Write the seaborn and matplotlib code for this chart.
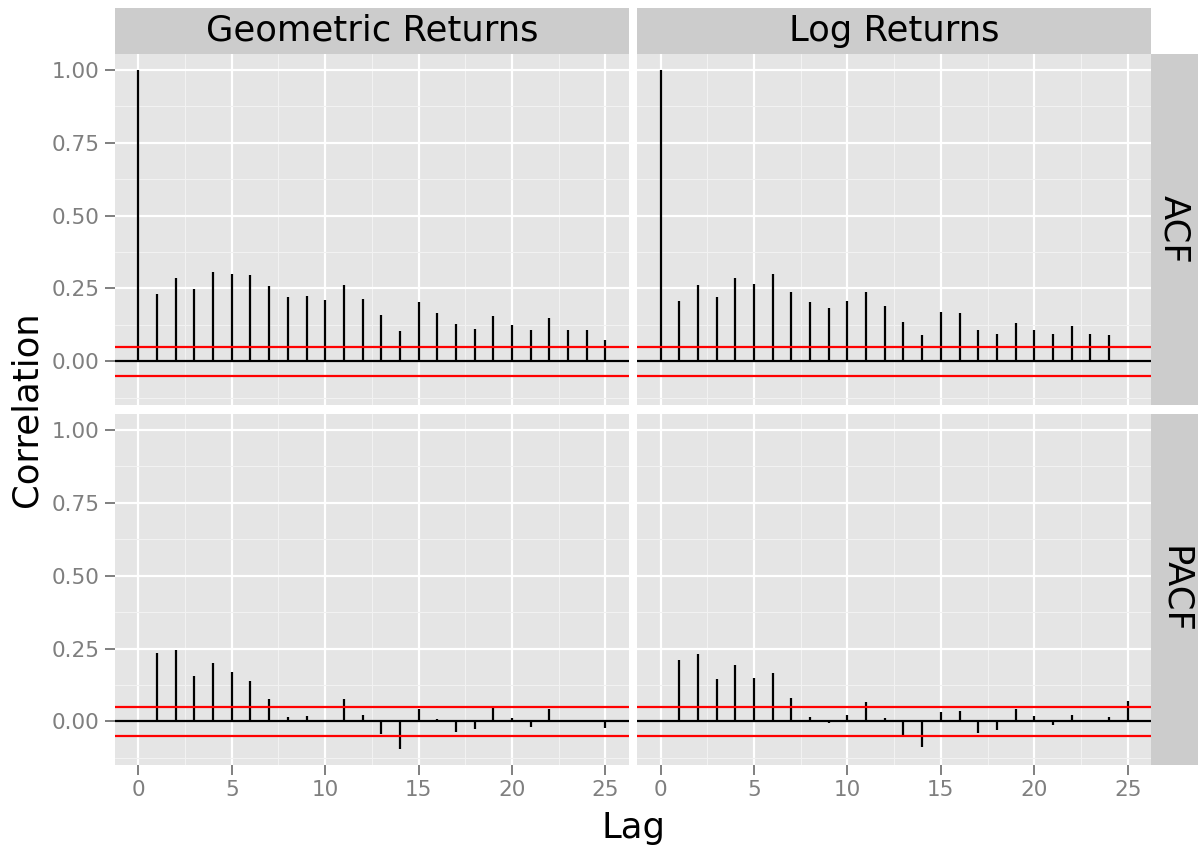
import matplotlib
matplotlib.use("Agg")
import matplotlib.pyplot as plt
from matplotlib.patches import Rectangle
import numpy as np
import pandas as pd
import seaborn as sns

# values
series_names = ["Geometric Returns", "Log Returns"]
kinds = ["ACF", "PACF"]

acf_lags_geo = list(range(0, 26))
acf_geo = [1.0, 0.232, 0.284, 0.247, 0.305, 0.300, 0.295, 0.257, 0.221, 0.225,
           0.209, 0.263, 0.212, 0.160, 0.105, 0.202, 0.167, 0.129, 0.112, 0.156,
           0.123, 0.106, 0.147, 0.108, 0.106, 0.072]

acf_lags_log = list(range(0, 25))
acf_log = [1.0, 0.208, 0.263, 0.221, 0.284, 0.264, 0.298, 0.239, 0.202, 0.182,
           0.207, 0.236, 0.191, 0.134, 0.089, 0.170, 0.167, 0.108, 0.095, 0.130,
           0.106, 0.092, 0.121, 0.092, 0.089]

pacf_lags = list(range(1, 26))
pacf_geo = [0.234, 0.245, 0.157, 0.201, 0.171, 0.138, 0.076, 0.016, 0.020, -0.002,
            0.076, 0.021, -0.044, -0.095, 0.042, 0.009, -0.037, -0.026, 0.045, 0.010,
            -0.019, 0.042, 0.003, 0.002, -0.023]
pacf_log = [0.210, 0.230, 0.144, 0.195, 0.148, 0.166, 0.080, 0.015, -0.005, 0.022,
            0.067, 0.013, -0.049, -0.087, 0.031, 0.037, -0.041, -0.031, 0.041, 0.020,
            -0.014, 0.021, 0.003, 0.014, 0.070]

ci = 0.05  # confidence band (red lines)

x_ticks = [0, 5, 10, 15, 20, 25]
y_ticks = [0.0, 0.25, 0.5, 0.75, 1.0]

parts = [
    ("Geometric Returns", "ACF", acf_lags_geo, acf_geo),
    ("Log Returns", "ACF", acf_lags_log, acf_log),
    ("Geometric Returns", "PACF", pacf_lags, pacf_geo),
    ("Log Returns", "PACF", pacf_lags, pacf_log),
]
df = pd.concat([pd.DataFrame({"series": s, "kind": k, "lag": l, "value": v})
                for s, k, l, v in parts], ignore_index=True)

sns.set_theme(style="darkgrid", rc={
    "axes.facecolor": "#E5E5E5",
    "grid.color": "white",
    "text.color": "black",
})
plt.rcParams["font.family"] = ["DejaVu Sans"]

GREY = "#7F7F7F"


def stems(data, **kws):
    ax = plt.gca()
    ax.vlines(data["lag"], 0, data["value"], colors="black", lw=1.6, zorder=3)


g = sns.FacetGrid(df, row="kind", col="series", row_order=kinds,
                  col_order=series_names, sharex=True, sharey=True,
                  despine=False, height=3.5, aspect=1.46)
g.map_dataframe(stems)

fig = g.figure
fig.set_size_inches(11.99, 8.5)
fig.subplots_adjust(left=0.0959, right=0.9600, top=0.9365, bottom=0.1,
                    wspace=0.0162, hspace=0.0265)
g.set_axis_labels("", "")

for i, kind in enumerate(kinds):
    for j, name in enumerate(series_names):
        ax = g.axes[i, j]
        ax.set_title("")
        ax.axhline(0, color="black", lw=1.6, zorder=4)
        ax.axhline(ci, color="red", lw=1.6, zorder=5)
        ax.axhline(-ci, color="red", lw=1.6, zorder=5)
        ax.set_xlim(-1.25, 26.25)
        ax.set_ylim(-0.1497, 1.0547)
        ax.set_xticks(x_ticks)
        ax.set_yticks(y_ticks)
        ax.set_xticks([2.5, 7.5, 12.5, 17.5, 22.5], minor=True)
        ax.set_yticks([-0.125, 0.125, 0.375, 0.625, 0.875], minor=True)
        ax.grid(which="major", color="white", lw=1.6)
        ax.grid(which="minor", color="#F2F2F2", lw=0.8)
        ax.set_axisbelow(True)
        for sp in ax.spines.values():
            sp.set_visible(False)
        ax.tick_params(which="minor", length=0)
        ax.tick_params(which="major", colors=GREY, labelcolor=GREY,
                       labelsize=15.5, length=7, width=1.4, pad=4)
        if i == 1:
            ax.set_xticklabels([str(t) for t in x_ticks])
            ax.tick_params(axis="x", labelbottom=True, bottom=True)
        else:
            ax.tick_params(axis="x", labelbottom=False, bottom=False)
        if j == 0:
            ax.set_yticklabels(["%.2f" % t for t in y_ticks])
            ax.tick_params(axis="y", labelleft=True, left=True)
        else:
            ax.tick_params(axis="y", labelleft=False, left=False)

        # column strips on top
        if i == 0:
            ax.add_patch(Rectangle((0, 1), 1, 0.131, transform=ax.transAxes,
                                   facecolor="#CCCCCC", edgecolor="none",
                                   clip_on=False))
            ax.text(0.5, 1 + 0.131 / 2, name, transform=ax.transAxes,
                    ha="center", va="center", fontsize=25.5, color="black")
        # row strips on the right
        if j == 1:
            ax.add_patch(Rectangle((1, 0), 0.0915, 1, transform=ax.transAxes,
                                   facecolor="#CCCCCC", edgecolor="none",
                                   clip_on=False))
            ax.text(1 + 0.0915 / 2, 0.5, kind, transform=ax.transAxes,
                    ha="center", va="center", rotation=-90, fontsize=25.5,
                    color="black")

fig.text(0.528, 0.0141, "Lag", ha="center", va="baseline", fontsize=25.5,
         color="black")
fig.text(0.0225, 0.519, "Correlation", ha="center", va="center",
         rotation=90, fontsize=25.5, color="black")

fig.savefig("out.png", dpi=100)
